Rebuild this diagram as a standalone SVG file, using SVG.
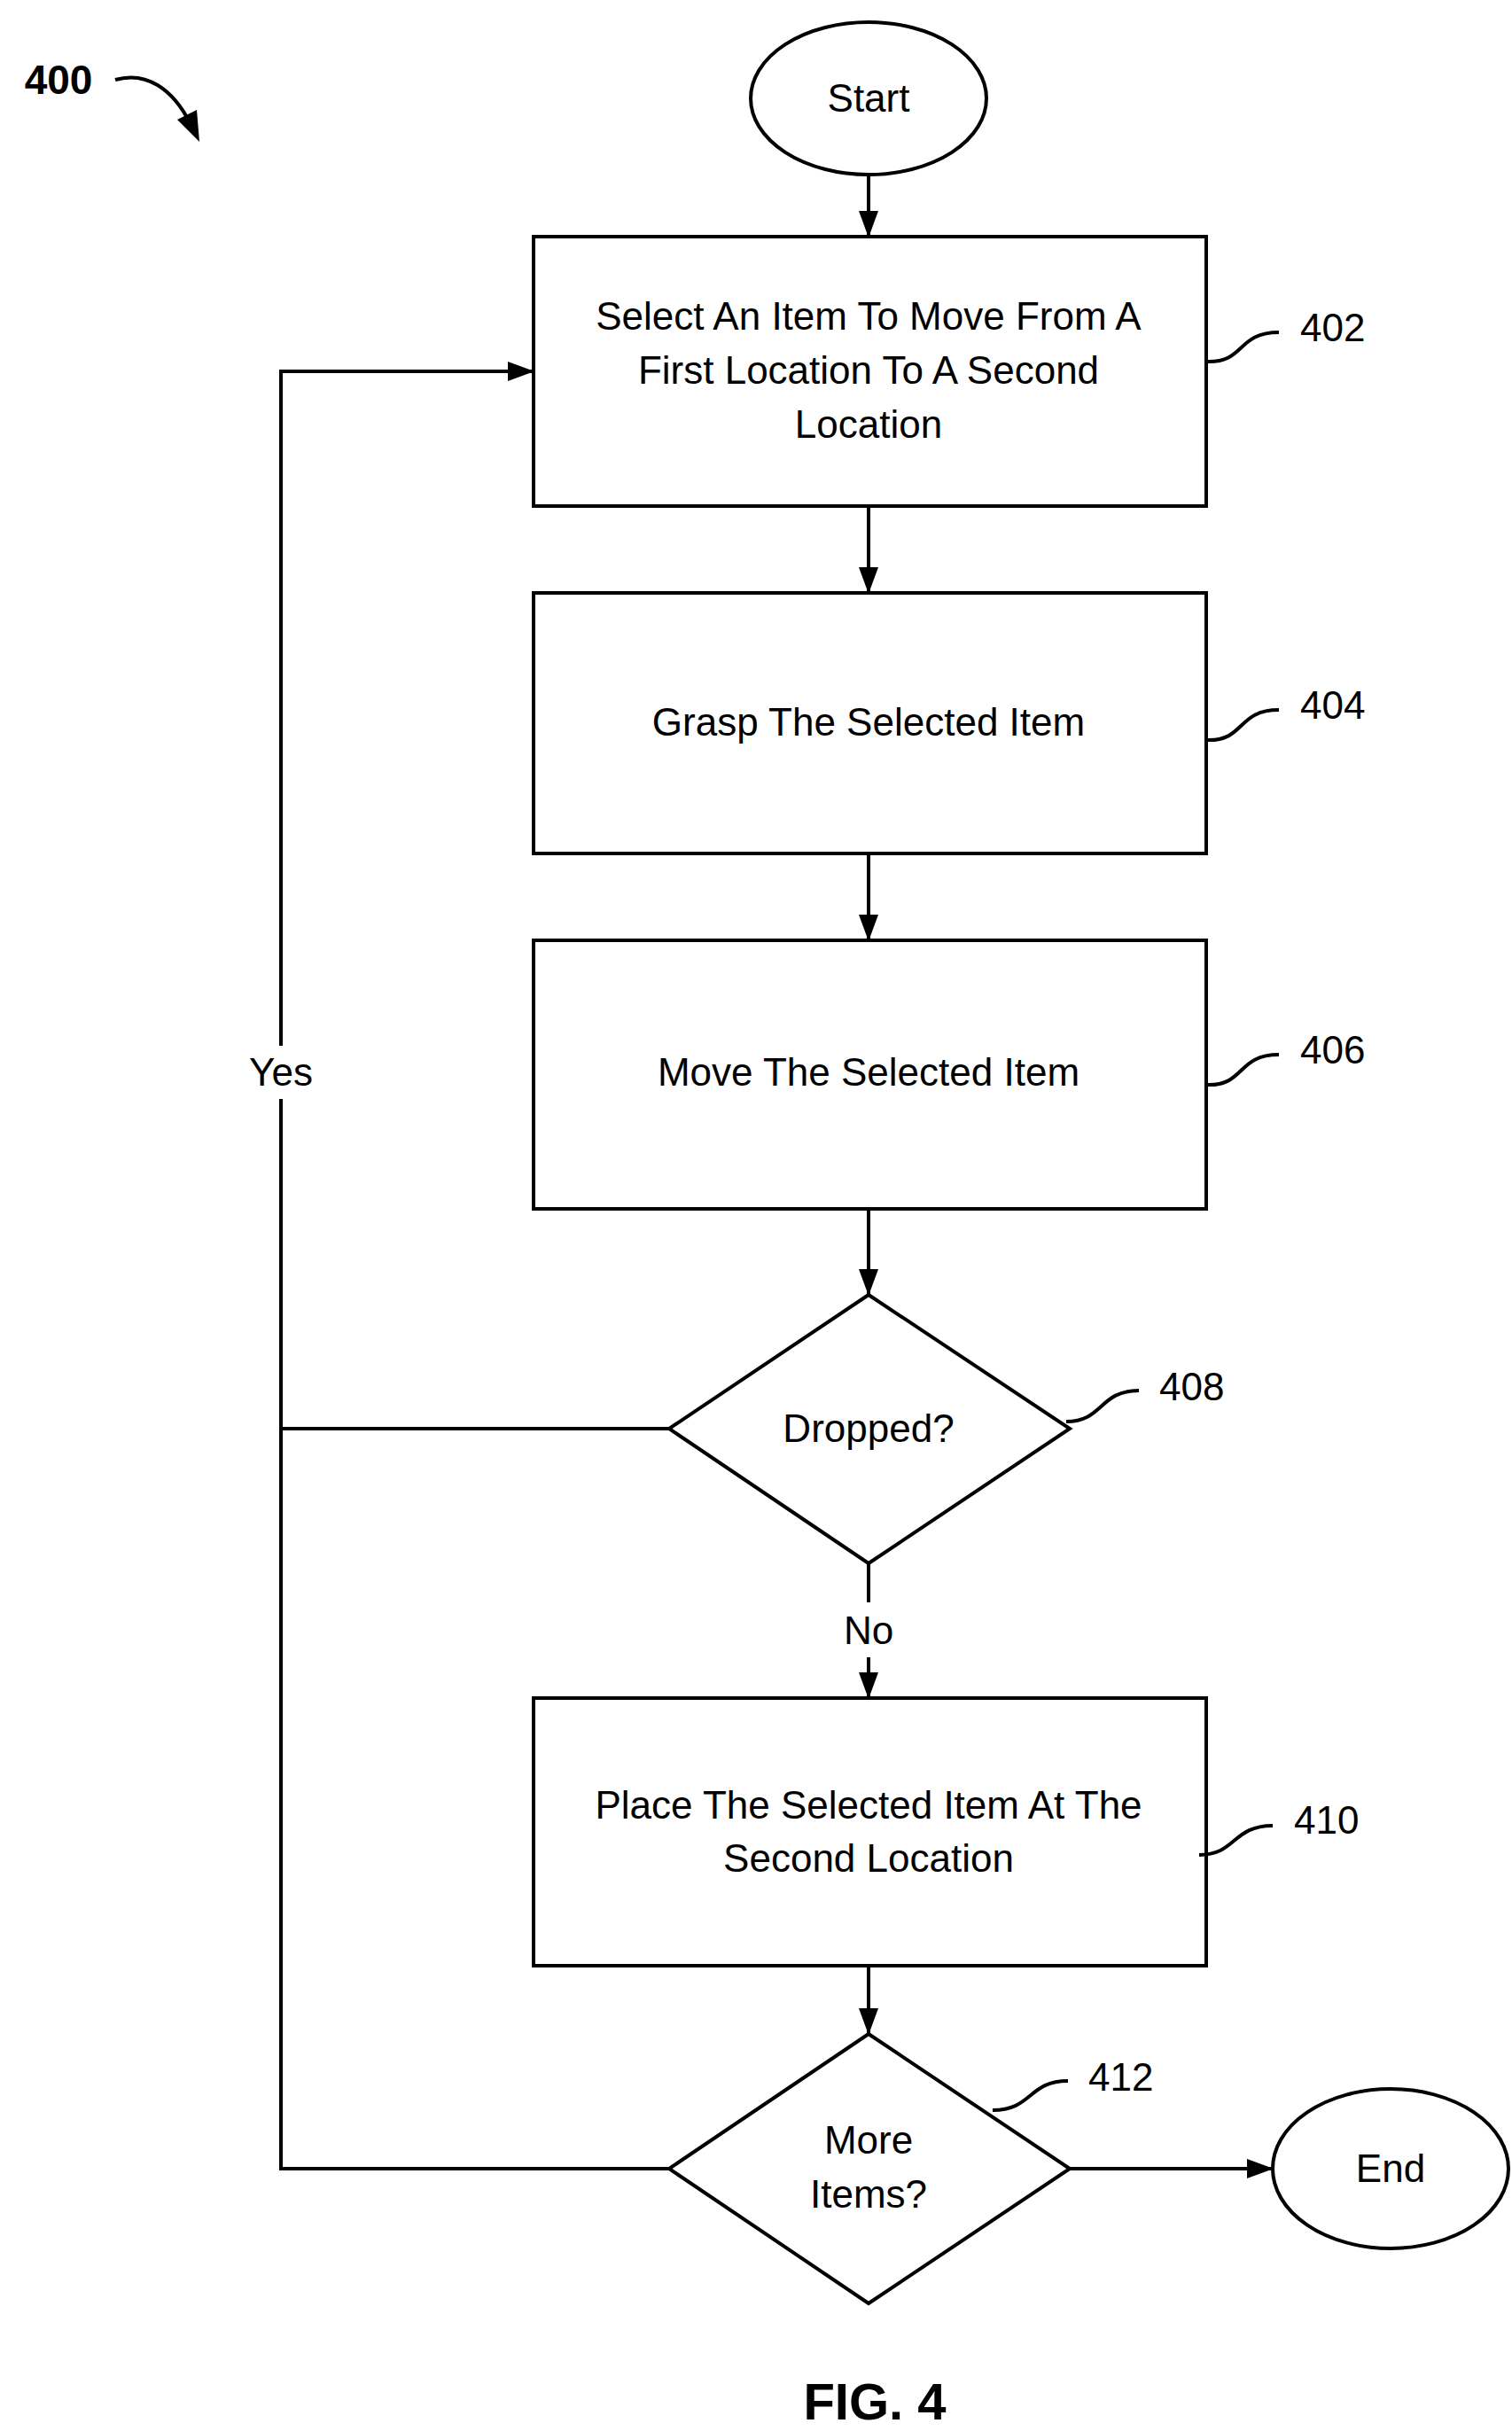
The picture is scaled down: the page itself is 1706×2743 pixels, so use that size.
<svg xmlns="http://www.w3.org/2000/svg" width="1706" height="2743" viewBox="0 0 1706 2743">
<style>
.s{fill:#fff;stroke:#000;stroke-width:4}
.l{fill:none;stroke:#000;stroke-width:4}
text{font-family:"Liberation Sans",Arial,sans-serif;font-size:44px;fill:#000;text-anchor:middle}
.n{text-anchor:start}
</style>
<defs><marker id="a" markerWidth="10" markerHeight="10" refX="9" refY="5" orient="auto" markerUnits="userSpaceOnUse" viewBox="0 0 10 10"><path d="M0,0L10,5L0,10z" fill="#000"/></marker>
<marker id="b" markerWidth="30" markerHeight="30" refX="28" refY="15" orient="auto" markerUnits="userSpaceOnUse" viewBox="0 0 30 30"><path d="M0,4L30,15L0,26z" fill="#000"/></marker></defs>
<g id="connectors">
<path class="l" d="M980,197V266" marker-end="url(#b)"/>
<path class="l" d="M980,571V668" marker-end="url(#b)"/>
<path class="l" d="M980,963V1060" marker-end="url(#b)"/>
<path class="l" d="M980,1364V1460" marker-end="url(#b)"/>
<path class="l" d="M980,1764V1808"/>
<path class="l" d="M980,1870V1915" marker-end="url(#b)"/>
<path class="l" d="M980,2218V2294" marker-end="url(#b)"/>
<path class="l" d="M1207,2447H1435" marker-end="url(#b)"/>
<path class="l" d="M755,1612H317"/>
<path class="l" d="M755,2447H317V1240"/>
<path class="l" d="M317,1180V419H601" marker-end="url(#b)"/>
<text x="317" y="1225">Yes</text>
<text x="980" y="1855">No</text>
</g>
<g id="label400">
<text x="66" y="106" style="font-weight:bold;font-size:46px">400</text>
<path class="l" d="M130,90C165,80 195,100 215,140"/>
<path d="M200,135L225,160L222,124z" fill="#000"/>
</g>
<g id="start"><ellipse class="s" cx="980" cy="111" rx="133" ry="86"/><text x="980" y="126">Start</text></g>
<g id="n402"><rect class="s" x="602" y="267" width="759" height="304"/>
<text x="980" y="372">Select An Item To Move From A</text><text x="980" y="433">First Location To A Second</text><text x="980" y="494">Location</text>
<path class="l" d="M1361,408C1405,410 1395,375 1443,375"/><text class="n" x="1467" y="385">402</text></g>
<g id="n404"><rect class="s" x="602" y="669" width="759" height="294"/><text x="980" y="830">Grasp The Selected Item</text>
<path class="l" d="M1361,835C1405,837 1395,801 1443,801"/><text class="n" x="1467" y="811">404</text></g>
<g id="n406"><rect class="s" x="602" y="1061" width="759" height="303"/><text x="980" y="1225">Move The Selected Item</text>
<path class="l" d="M1361,1224C1405,1226 1395,1190 1443,1190"/><text class="n" x="1467" y="1200">406</text></g>
<g id="n408"><path class="s" d="M980,1461L1207,1612L980,1764L755,1612z"/><text x="980" y="1627">Dropped?</text>
<path class="l" d="M1203,1604C1245,1604 1240,1569 1285,1569"/><text class="n" x="1308" y="1580">408</text></g>
<g id="n410"><rect class="s" x="602" y="1916" width="759" height="302"/>
<text x="980" y="2052">Place The Selected Item At The</text><text x="980" y="2112">Second Location</text>
<path class="l" d="M1353,2093C1395,2093 1390,2060 1436,2060"/><text class="n" x="1460" y="2069">410</text></g>
<g id="n412"><path class="s" d="M980,2295L1207,2447L980,2599L755,2447z"/><text x="980" y="2430">More</text><text x="980" y="2491">Items?</text>
<path class="l" d="M1120,2381C1165,2381 1160,2348 1205,2348"/><text class="n" x="1228" y="2359">412</text></g>
<g id="end"><ellipse class="s" cx="1569" cy="2447" rx="133" ry="90"/><text x="1569" y="2462">End</text></g>
<text x="987" y="2730" style="font-weight:bold;font-size:58px">FIG. 4</text>
</svg>
